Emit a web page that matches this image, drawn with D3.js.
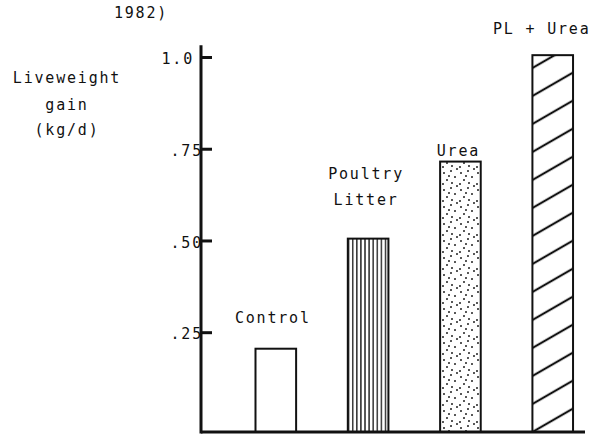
<!DOCTYPE html>
<html>
<head>
<meta charset="utf-8">
<script src="https://cdn.jsdelivr.net/npm/d3@7"></script>
<style>
  body { margin: 0; background: #fff; }
  svg text { font-family: "DejaVu Sans Mono", monospace; font-size: 15px; letter-spacing: 1.8px; fill: #111; }
</style>
</head>
<body>
<svg width="600" height="444"></svg>
<script>
// data
var categories = ["Control", "Poultry Litter", "Urea", "PL + Urea"];
var gains = [0.205, 0.505, 0.715, 1.005];
var tickValues = [0.25, 0.5, 0.75, 1.0];
var tickLabels = [".25", ".50", ".75", "1.0"];
var labelLines = [["Control"], ["Poultry", "Litter"], ["Urea"], ["PL + Urea"]];
var yTitle = ["Liveweight", "gain", "(kg/d)"];

// label placement (gap above bar, horizontal nudge) – styling only
var labelGap = [26, 34, 6, 21];
var labelShift = [-3, -2, -2, -11];
var fills = ["#fff", "url(#vlines)", "url(#dots)", "url(#hatch)"];

var svg = d3.select("svg");

var x = d3.scaleBand()
    .domain(categories)
    .range([201, 585])
    .paddingInner(0.56)
    .paddingOuter(0.36)
    .align(0.82);

var y = d3.scaleLinear()
    .domain([-0.022, 1])
    .range([432, 57]);

var base = y.domain()[0];

// patterns
var defs = svg.append("defs");

var vl = defs.append("pattern")
    .attr("id", "vlines")
    .attr("patternUnits", "userSpaceOnUse")
    .attr("width", 4.1)
    .attr("height", 10)
    .attr("x", x("Poultry Litter"));
vl.append("line")
    .attr("x1", 0.8).attr("x2", 0.8)
    .attr("y1", 0).attr("y2", 10)
    .attr("stroke", "#111").attr("stroke-width", 1.3);

var dt = defs.append("pattern")
    .attr("id", "dots")
    .attr("patternUnits", "userSpaceOnUse")
    .attr("width", 17)
    .attr("height", 17);
[[2, 3], [9, 1], [13, 7], [5, 10], [1, 14], [10, 13], [15, 16], [7, 6]].forEach(function(p) {
    dt.append("circle").attr("cx", p[0]).attr("cy", p[1]).attr("r", 0.95).attr("fill", "#111");
});

var ht = defs.append("pattern")
    .attr("id", "hatch")
    .attr("patternUnits", "userSpaceOnUse")
    .attr("width", 60)
    .attr("height", 28)
    .attr("patternTransform", "translate(" + x("PL + Urea") + "," + y(base) + ") skewY(-30)");
ht.append("line")
    .attr("x1", 0).attr("x2", 60)
    .attr("y1", 0).attr("y2", 0)
    .attr("stroke", "#111").attr("stroke-width", 2.4);
ht.append("line")
    .attr("x1", 0).attr("x2", 60)
    .attr("y1", 28).attr("y2", 28)
    .attr("stroke", "#111").attr("stroke-width", 2.4);

// bars
svg.append("g")
    .selectAll("rect")
    .data(categories)
    .enter().append("rect")
    .attr("x", function(d) { return x(d); })
    .attr("y", function(d, i) { return y(gains[i]); })
    .attr("width", x.bandwidth())
    .attr("height", function(d, i) { return y(base) - y(gains[i]); })
    .attr("fill", function(d, i) { return fills[i]; })
    .attr("stroke", "#111")
    .attr("stroke-width", 2);

// bar labels
categories.forEach(function(c, i) {
    var lines = labelLines[i];
    var bottom = y(gains[i]) - labelGap[i];
    var t = svg.append("text")
        .attr("text-anchor", "middle")
        .attr("x", x(c) + x.bandwidth() / 2 + labelShift[i]);
    lines.forEach(function(l, j) {
        t.append("tspan")
            .attr("x", x(c) + x.bandwidth() / 2 + labelShift[i])
            .attr("y", bottom - (lines.length - 1 - j) * 26)
            .text(l);
    });
});

// axes
var yAxis = d3.axisLeft(y)
    .tickValues(tickValues)
    .tickSize(-11)
    .tickPadding(0)
    .tickFormat(function(d, i) { return tickLabels[i]; });

var gy = svg.append("g")
    .attr("transform", "translate(201,0)")
    .call(yAxis);
gy.select(".domain").remove();
gy.selectAll(".tick line").attr("stroke", "#111").attr("stroke-width", 3);
gy.selectAll(".tick text")
    .attr("font-family", null).attr("font-size", null)
    .attr("dy", "0.45em")
    .attr("dx", function(d) { return d === 1 ? -7 : 2; });

svg.append("line")
    .attr("x1", 201).attr("x2", 201)
    .attr("y1", y(base) + 1.5).attr("y2", y(1.032))
    .attr("stroke", "#111").attr("stroke-width", 3);

svg.append("line")
    .attr("x1", x.range()[0]).attr("x2", x.range()[1])
    .attr("y1", y(base)).attr("y2", y(base))
    .attr("stroke", "#111").attr("stroke-width", 3);

// axis title
svg.append("g").selectAll("text")
    .data(yTitle)
    .enter().append("text")
    .attr("text-anchor", "middle")
    .attr("x", 67)
    .attr("y", function(d, i) { return [83, 110, 135][i]; })
    .text(function(d) { return d; });

svg.append("text")
    .attr("text-anchor", "middle")
    .attr("x", 141).attr("y", 18)
    .text("1982)");
</script>
</body>
</html>
